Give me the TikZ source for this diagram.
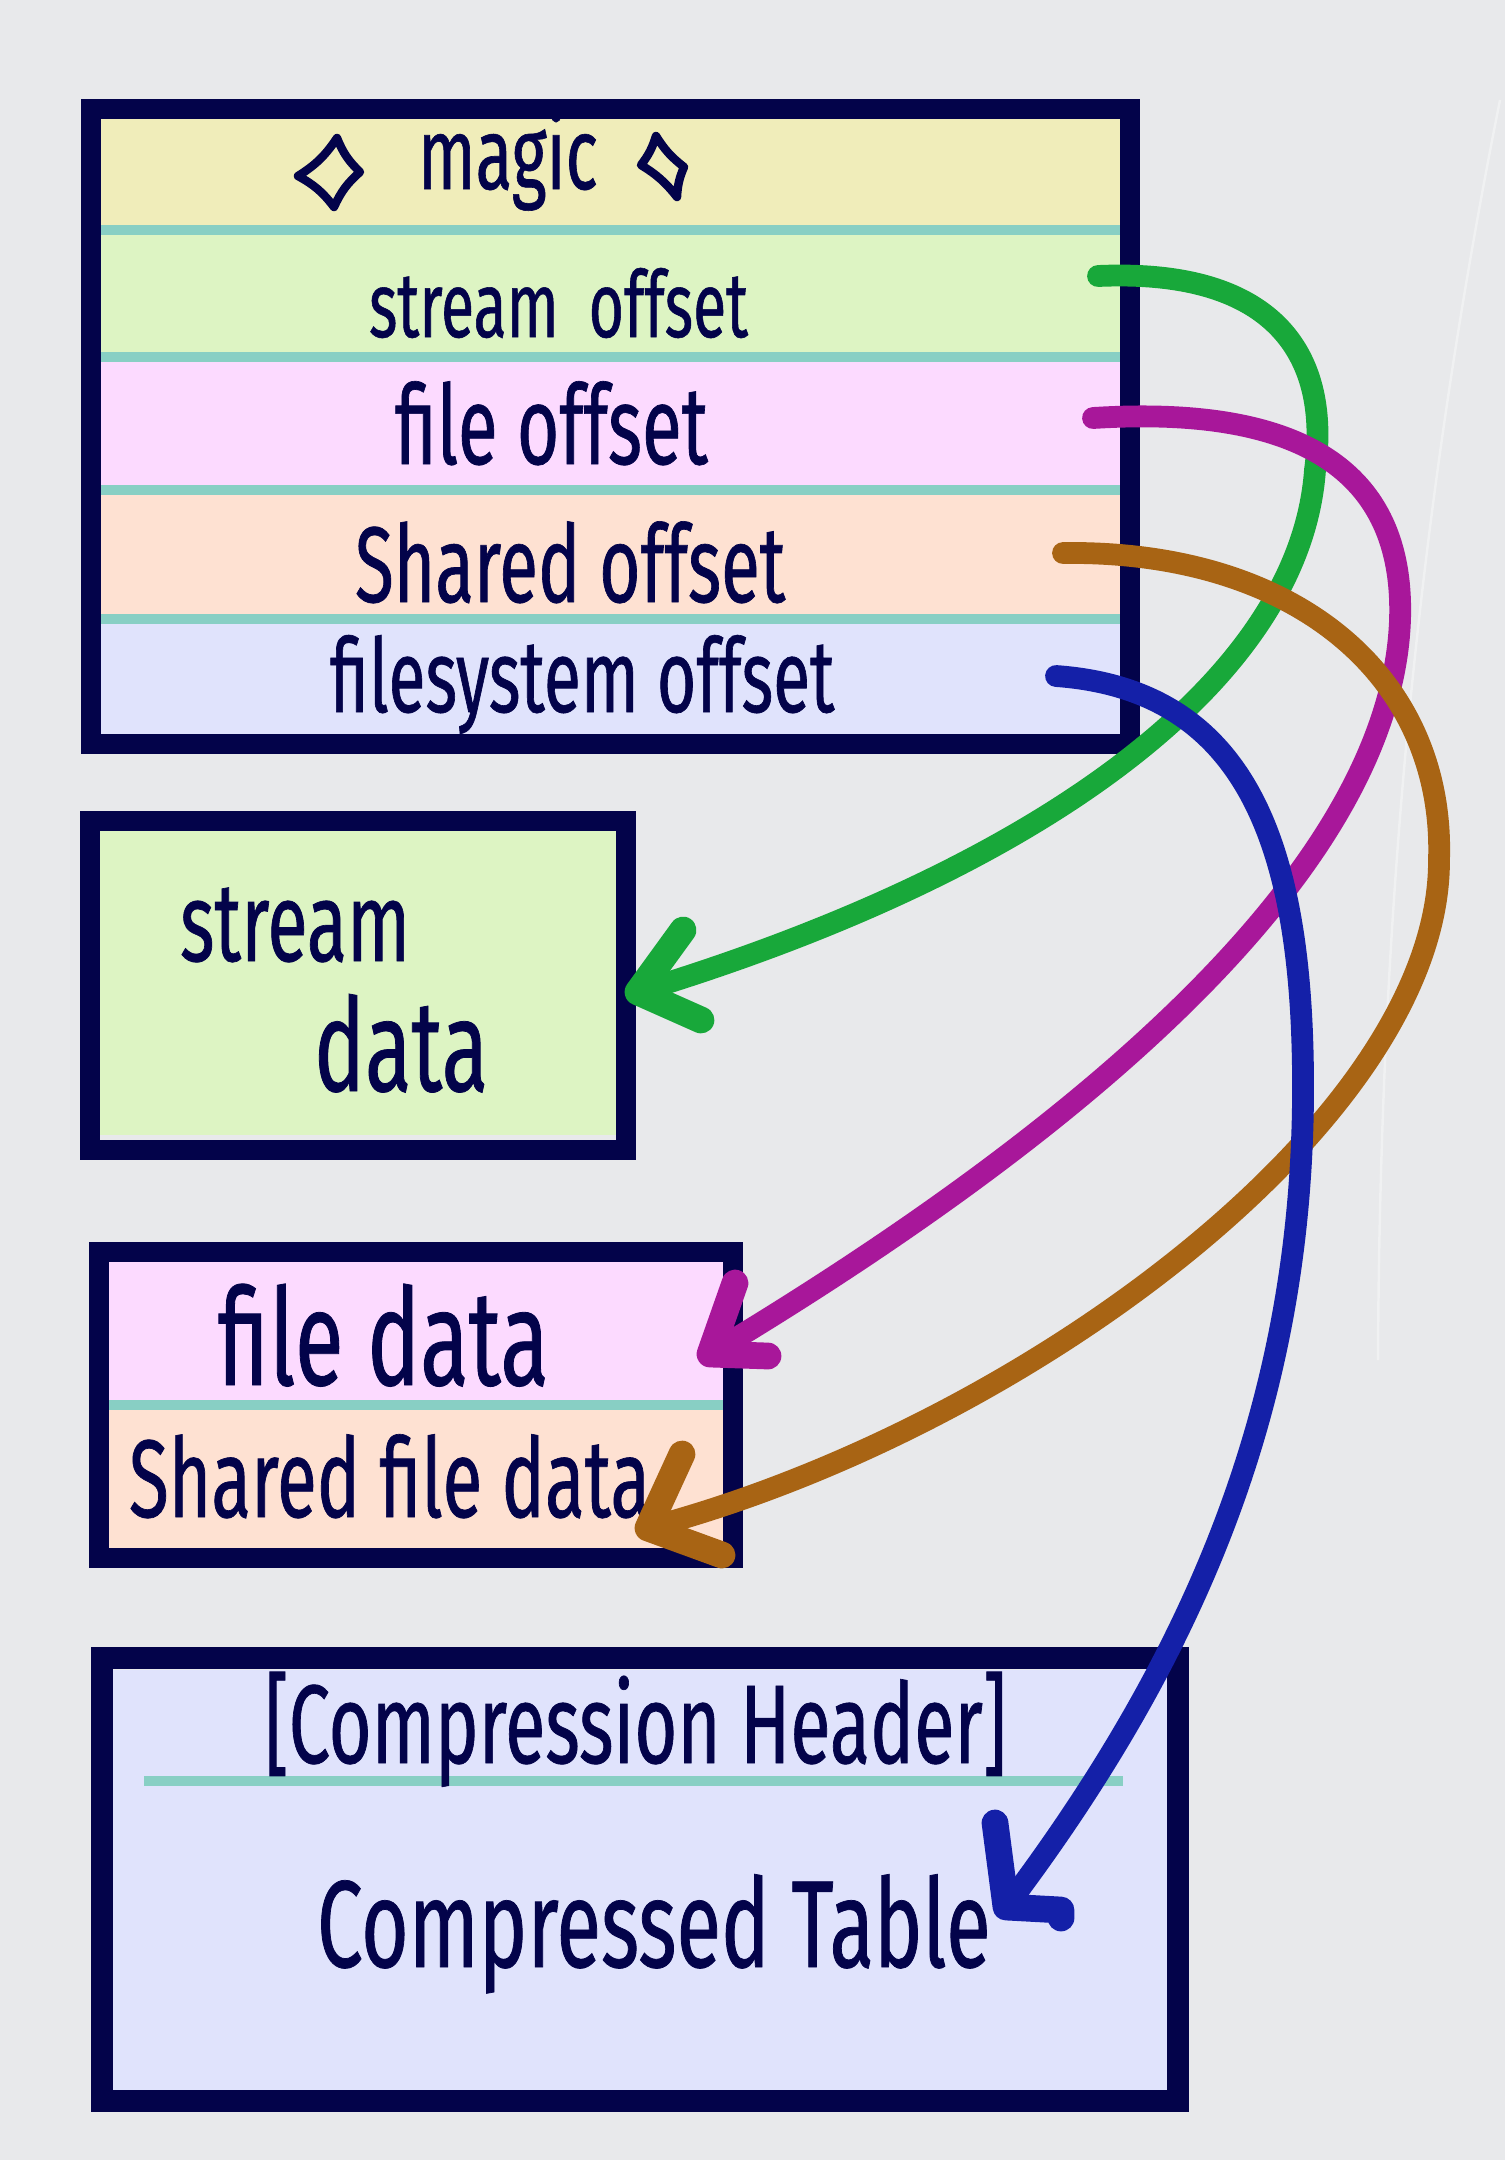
\documentclass[tikz,border=0pt]{standalone}
\usepackage{fontspec}
\newfontfamily\hand[FakeStretch=0.66,FakeBold=0.6]{Fira Sans}
\newcommand\hsz[1]{\fontsize{#1}{#1}\selectfont}
\definecolor{bg}{HTML}{E8E9EB}
\definecolor{ink}{HTML}{03034A}
\definecolor{yel}{HTML}{F0EDBA}
\definecolor{grn}{HTML}{DDF4C3}
\definecolor{pnk}{HTML}{FCDAFF}
\definecolor{pch}{HTML}{FEE1D2}
\definecolor{lav}{HTML}{E0E3FC}
\definecolor{sep}{HTML}{88CFC4}
\definecolor{agreen}{HTML}{18A83A}
\definecolor{amag}{HTML}{A8179A}
\definecolor{abrown}{HTML}{A86414}
\definecolor{ablue}{HTML}{1420A8}
\begin{document}
\begin{tikzpicture}[x=0.01cm,y=-0.01cm,
  frame/.style={draw=ink,line width=5.7pt,inner sep=0,outer sep=0},
  sepline/.style={draw=sep,line width=2.6pt},
  lbl/.style={anchor=base west,inner sep=0,outer sep=0,text=ink,font=\hand},
  conn/.style={line width=6.2pt,line cap=round,line join=round},
  barb/.style={line width=7.6pt,line cap=round,line join=round},
  sparkle/.style={draw=ink,line width=2.4pt,line join=round,line cap=round},
]
\fill[bg] (0,0) rectangle (1505,2160);
\useasboundingbox (0,0) rectangle (1505,2160);
% faint stroke on the right
\draw[white!35!bg,line width=0.7pt] (1500,100) .. controls (1420,500) and (1380,900) .. (1378,1360);

% ---------- top header box ----------
\fill[yel] (101,118) rectangle (1121,230);
\fill[grn] (101,230) rectangle (1121,357);
\fill[pnk] (101,357) rectangle (1121,490);
\fill[pch] (101,490) rectangle (1121,619);
\fill[lav] (101,619) rectangle (1121,734);
\draw[sepline] (101,230) -- (1121,230);
\draw[sepline] (101,357) -- (1121,357);
\draw[sepline] (101,490) -- (1121,490);
\draw[sepline] (101,619) -- (1121,619);
\node[frame,minimum width=10.39cm,minimum height=6.35cm] (hdr) at (610.5,426.5) {};

\draw[sparkle] (337,138) to[bend right=12] (360,172) to[bend right=12] (334,207) to[bend right=12] (298,176) to[bend right=12] cycle;
\draw[sparkle] (656,136) to[bend right=10] (684,167) to[bend right=10] (677,197) to[bend right=10] (641,165) to[bend right=10] cycle;
\node[lbl,font=\hand\hsz{29}] (magic) at (418,189) {magic};
\node[lbl,font=\hand\hsz{26.2}] (so) at (369,337) {stream\hspace{0.15em} offset};
\node[lbl,font=\hand\hsz{31.4}] (fo) at (395,464) {file offset};
\node[lbl,font=\hand\hsz{30.6}] (sho) at (355,602) {Shared offset};
\node[lbl,font=\hand\hsz{29.2}] (fso) at (330,712) {filesystem offset};

% ---------- stream data box ----------
\fill[grn] (100,828) rectangle (617,1135);
\node[frame,minimum width=5.36cm,minimum height=3.29cm] (sd) at (358,985.5) {};
\node[lbl,font=\hand\hsz{31.8}] (sdt1) at (180,961) {stream};
\node[lbl,font=\hand\hsz{36.8}] (sdt2) at (314,1091) {data};

% ---------- file data box ----------
\fill[pnk] (103,1260) rectangle (723,1405);
\fill[pch] (103,1405) rectangle (723,1550);
\draw[sepline] (103,1405) -- (723,1405);
\node[frame,minimum width=6.34cm,minimum height=3.06cm] (fd) at (416,1405) {};
\node[lbl,font=\hand\hsz{38.4}] (fdt) at (218,1385) {file data};
\node[lbl,font=\hand\hsz{31.4}] (sfdt) at (129,1517) {Shared file data};

% ---------- compressed table box ----------
\fill[lav] (113,1670) rectangle (1167,2090);
\draw[sepline] (144,1781) -- (1123,1781);
\node[frame,line width=6.2pt,minimum width=10.76cm,minimum height=4.43cm] (ct) at (640,1879.5) {};
\node[lbl,font=\hand\hsz{31.8}] (cht) at (265,1763) {[Compression Header]};
\node[lbl,font=\hand\hsz{35.2}] (ctt) at (317,1967) {Compressed Table};

% ---------- connector end points ----------
\coordinate (gS) at (1098,276);  \coordinate (gT) at (638,992);
\coordinate (mS) at (1093,418);  \coordinate (mT) at (710,1354);
\coordinate (bS) at (1063,553);  \coordinate (bT) at (648,1528);
\coordinate (lS) at (1056,676);  \coordinate (lT) at (1006,1907);

% green: stream offset -> stream data
\draw[conn,agreen] (gS) .. controls (1280,268) and (1330,360) .. (1315,470)
  .. controls (1300,680) and (1040,870) .. (gT);
\draw[barb,agreen] (683,930) -- (gT) -- (701,1020);

% magenta: file offset -> file data
\draw[conn,amag] (mS) .. controls (1300,405) and (1405,470) .. (1400,620)
  .. controls (1390,900) and (1000,1180) .. (mT);
\draw[barb,amag] (735,1283) -- (mT) -- (768,1356);

% brown: shared offset -> shared file data
\draw[conn,abrown] (bS) .. controls (1300,550) and (1445,680) .. (1439,860)
  .. controls (1440,1120) and (1020,1430) .. (bT);
\draw[barb,abrown] (682,1454) -- (bT) -- (722,1555);

% blue: filesystem offset -> compressed table
\draw[conn,ablue] (lS) .. controls (1250,690) and (1305,850) .. (1303,1100)
  .. controls (1300,1400) and (1200,1650) .. (lT);
\draw[barb,ablue] (995,1823) -- (lT) -- (1061,1910) -- (1061,1918);
\end{tikzpicture}
\end{document}
